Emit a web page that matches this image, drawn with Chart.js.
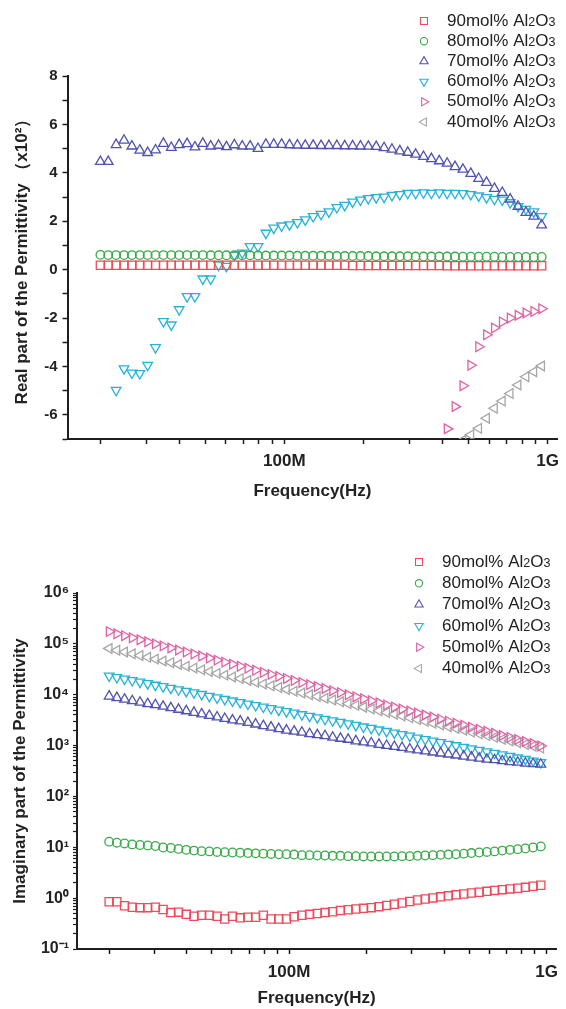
<!DOCTYPE html>
<html lang="en">
<head>
<meta charset="UTF-8">
<title>Permittivity vs Frequency</title>
<script src="https://cdn.jsdelivr.net/npm/chart.js"></script>
<style>
  html, body { margin: 0; padding: 0; background: #fff; }
  .box { position: absolute; left: 0; width: 566px; }
  #top { top: 0; height: 510px; }
  #bottom { top: 510px; height: 499px; }
</style>
</head>
<body>
<div class="box" id="top"><canvas id="realChart"></canvas></div>
<div class="box" id="bottom"><canvas id="imagChart"></canvas></div>

<script>
const freqMHz = [20.0, 21.42, 22.95, 24.59, 26.35, 28.23, 30.24, 32.40, 34.72, 37.19,
  39.85, 42.70, 45.74, 49.01, 52.51, 56.25, 60.27, 64.57, 69.18, 74.12,
  79.41, 85.08, 91.16, 97.65, 104.6, 112.1, 120.1, 128.7, 137.9, 147.7,
  158.3, 169.6, 181.7, 194.6, 208.5, 223.4, 239.3, 256.4, 274.7, 294.3,
  315.3, 337.9, 362.0, 387.8, 415.5, 445.1, 476.9, 510.9, 547.4, 586.5,
  628.3, 673.2, 721.2, 772.7, 827.9, 887.0, 950.0];

const seriesLabels = ['90mol% Al₂O₃', '80mol% Al₂O₃', '70mol% Al₂O₃',
  '60mol% Al₂O₃', '50mol% Al₂O₃', '40mol% Al₂O₃'];

// real part (x10^2)
const real90 = [0.18, 0.18, 0.18, 0.18, 0.18, 0.18, 0.18, 0.18, 0.18, 0.18,
  0.18, 0.18, 0.18, 0.18, 0.18, 0.18, 0.18, 0.18, 0.18, 0.18,
  0.18, 0.18, 0.18, 0.18, 0.18, 0.18, 0.18, 0.18, 0.18, 0.18,
  0.18, 0.18, 0.17, 0.17, 0.17, 0.17, 0.17, 0.17, 0.17, 0.17,
  0.17, 0.17, 0.17, 0.17, 0.16, 0.16, 0.16, 0.16, 0.16, 0.16,
  0.16, 0.16, 0.16, 0.16, 0.16, 0.16, 0.16];
const real80 = [0.61, 0.60, 0.60, 0.60, 0.60, 0.60, 0.60, 0.60, 0.60, 0.60,
  0.60, 0.60, 0.60, 0.60, 0.59, 0.59, 0.59, 0.59, 0.59, 0.59,
  0.58, 0.58, 0.58, 0.58, 0.58, 0.57, 0.57, 0.57, 0.57, 0.57,
  0.56, 0.56, 0.56, 0.56, 0.56, 0.55, 0.55, 0.55, 0.55, 0.55,
  0.54, 0.54, 0.54, 0.54, 0.54, 0.54, 0.53, 0.53, 0.53, 0.53,
  0.53, 0.52, 0.52, 0.52, 0.52, 0.52, 0.52];
const real70 = [4.46, 4.46, 5.16, 5.34, 5.10, 4.93, 4.83, 4.94, 5.21, 5.04,
  5.16, 5.20, 5.06, 5.21, 5.10, 5.13, 5.07, 5.15, 5.10, 5.10,
  5.00, 5.17, 5.17, 5.17, 5.15, 5.14, 5.13, 5.13, 5.12, 5.12,
  5.12, 5.11, 5.11, 5.10, 5.09, 5.08, 5.03, 4.97, 4.90, 4.84,
  4.76, 4.67, 4.58, 4.49, 4.39, 4.25, 4.14, 3.97, 3.76, 3.60,
  3.35, 3.18, 2.91, 2.61, 2.36, 2.20, 1.84];
const real60 = [null, null, -4.98, -4.09, -4.27, -4.29, -3.95, -3.22, -2.14, -2.28,
  -1.65, -1.11, -1.11, -0.38, -0.38, 0.19, 0.14, 0.60, 0.69, 0.96,
  0.96, 1.51, 1.72, 1.81, 1.86, 1.95, 2.06, 2.20, 2.29, 2.39,
  2.57, 2.66, 2.80, 2.88, 2.94, 2.98, 3.00, 3.07, 3.11, 3.16,
  3.16, 3.18, 3.16, 3.18, 3.16, 3.16, 3.15, 3.11, 3.05, 2.98,
  2.91, 2.88, 2.77, 2.61, 2.50, 2.39, 2.20];
const real50 = [null, null, null, null, null, null, null, null, null, null,
  null, null, null, null, null, null, null, null, null, null,
  null, null, null, null, null, null, null, null, null, null,
  null, null, null, null, null, null, null, null, null, null,
  null, null, null, null, -6.58, -5.66, -4.80, -3.95, -3.19, -2.69,
  -2.41, -2.16, -2.00, -1.89, -1.79, -1.73, -1.62];
const real40 = [null, null, null, null, null, null, null, null, null, null,
  null, null, null, null, null, null, null, null, null, null,
  null, null, null, null, null, null, null, null, null, null,
  null, null, null, null, null, null, null, null, null, null,
  null, null, null, null, null, null, -7.05, -6.83, -6.56, -6.14,
  -5.73, -5.43, -5.12, -4.77, -4.43, -4.22, -3.98];

// imaginary part
const imag90 = [0.85, 0.85, 0.71, 0.66, 0.65, 0.65, 0.66, 0.60, 0.52, 0.53,
  0.48, 0.44, 0.46, 0.46, 0.44, 0.39, 0.44, 0.41, 0.42, 0.42,
  0.46, 0.39, 0.39, 0.39, 0.43, 0.46, 0.48, 0.50, 0.52, 0.54,
  0.57, 0.59, 0.61, 0.63, 0.65, 0.68, 0.72, 0.76, 0.80, 0.86,
  0.92, 0.96, 1.01, 1.06, 1.11, 1.16, 1.21, 1.26, 1.31, 1.36,
  1.42, 1.47, 1.52, 1.57, 1.63, 1.71, 1.79];
const imag80 = [12.9, 12.3, 11.9, 11.4, 11.1, 10.9, 10.6, 9.9, 9.7, 9.3,
  8.9, 8.6, 8.4, 8.3, 8.1, 8.0, 7.9, 7.8, 7.7, 7.6,
  7.5, 7.4, 7.3, 7.3, 7.2, 7.0, 7.0, 6.9, 6.9, 6.8,
  6.8, 6.7, 6.7, 6.6, 6.6, 6.6, 6.6, 6.6, 6.7, 6.7,
  6.8, 6.9, 7.0, 7.1, 7.2, 7.3, 7.5, 7.7, 7.9, 8.1,
  8.3, 8.6, 8.9, 9.2, 9.5, 9.9, 10.4];
const imag70 = [9330, 8710, 8130, 7590, 7080, 6610, 6310, 5890, 5500, 5130,
  4790, 4470, 4170, 3890, 3630, 3390, 3160, 3020, 2820, 2630,
  2450, 2290, 2140, 2000, 1910, 1820, 1700, 1620, 1550, 1450,
  1380, 1320, 1230, 1170, 1120, 1050, 1000, 955, 912, 851,
  813, 776, 741, 708, 676, 646, 617, 589, 562, 537,
  525, 501, 479, 468, 447, 437, 427];
const imag60 = [23400, 21900, 20400, 19100, 17800, 16600, 15500, 14500, 13500, 12600,
  11700, 11000, 10200, 9330, 8710, 8130, 7590, 7080, 6610, 6170,
  5750, 5370, 5010, 4680, 4370, 4070, 3800, 3550, 3310, 3090,
  2880, 2690, 2510, 2340, 2190, 2040, 1910, 1780, 1660, 1550,
  1410, 1320, 1230, 1150, 1070, 1000, 933, 871, 813, 759,
  708, 661, 617, 575, 537, 501, 468];
const imag50 = [174000, 158000, 145000, 132000, 120000, 110000, 100000, 91200, 83200, 75900,
  69200, 63100, 57500, 52500, 47900, 43700, 39800, 36300, 33100, 30200,
  27500, 25100, 22900, 20900, 19100, 17400, 15800, 14500, 13200, 12000,
  11000, 10000, 9120, 8320, 7590, 6920, 6310, 5750, 5250, 4790,
  4370, 3980, 3630, 3310, 3020, 2750, 2510, 2290, 2090, 1910,
  1740, 1580, 1450, 1320, 1200, 1100, 980];
const imag40 = [81300, 75000, 69200, 63800, 58900, 54300, 50100, 46200, 42700, 39400,
  36300, 33500, 30900, 28500, 26300, 24300, 22400, 20700, 19100, 17600,
  16200, 15000, 13800, 12700, 11700, 10800, 10000, 9230, 8510, 7850,
  7240, 6680, 6170, 5690, 5250, 4840, 4470, 4120, 3800, 3510,
  3240, 2990, 2750, 2540, 2340, 2160, 2000, 1840, 1700, 1570,
  1450, 1330, 1230, 1140, 1050, 966, 891];

const colors = ['#ee4a5c', '#3aaa4a', '#5252b0', '#27b2d6', '#e062a4', '#a6a6a6'];
const markers = [
  { style: 'rect', rot: 0, r: 5.8 },
  { style: 'circle', rot: 0, r: 4.3 },
  { style: 'triangle', rot: 0, r: 5.6 },
  { style: 'triangle', rot: 180, r: 5.6 },
  { style: 'triangle', rot: 90, r: 5.6 },
  { style: 'triangle', rot: 270, r: 5.6 }
];

const FONT = '"Liberation Sans", Arial, Helvetica, sans-serif';
const AXIS = '#1e1e1e';

function toPoints(vals) {
  const pts = [];
  vals.forEach((v, i) => { if (v !== null) pts.push({ x: freqMHz[i] * 1e6, y: v }); });
  return pts;
}

function makeDatasets(seriesList) {
  return seriesList.map((vals, i) => ({
    label: seriesLabels[i],
    data: toPoints(vals),
    showLine: false,
    pointStyle: markers[i].style,
    rotation: markers[i].rot,
    pointRadius: markers[i].r,
    pointHoverRadius: markers[i].r,
    borderColor: colors[i],
    backgroundColor: 'rgba(0,0,0,0)',
    pointBorderWidth: 1.3,
    borderWidth: 1.3
  }));
}

// keep only 1..9 x 10^n ticks
function niceLogTicks(scale) {
  scale.ticks = scale.ticks.filter(t => {
    const e = Math.floor(Math.log10(t.value) + 1e-9);
    const m = t.value / Math.pow(10, e);
    return Math.abs(m - Math.round(m)) < 1e-6;
  });
}

const supMap = { '-': '⁻', '0': '⁰', '1': '¹', '2': '²', '3': '³', '4': '⁴', '5': '⁵', '6': '⁶', '7': '⁷', '8': '⁸', '9': '⁹' };

// legend drawn by hand so it can sit where the original one sits
function drawMarker(ctx, m, x, y) {
  ctx.save();
  ctx.translate(x, y);
  ctx.rotate(m.rot * Math.PI / 180);
  ctx.beginPath();
  if (m.style === 'circle') {
    ctx.arc(0, 0, m.r, 0, Math.PI * 2);
  } else if (m.style === 'rect') {
    const s = m.r * Math.SQRT1_2;
    ctx.rect(-s, -s, 2 * s, 2 * s);
  } else {
    for (let k = 0; k < 3; k++) {
      const a = k * 2 * Math.PI / 3;
      ctx.lineTo(Math.sin(a) * m.r, -Math.cos(a) * m.r);
    }
    ctx.closePath();
  }
  ctx.stroke();
  ctx.restore();
}

const boxLegend = {
  id: 'boxLegend',
  afterDraw(chart, args, opts) {
    const ctx = chart.ctx;
    ctx.save();
    chart.data.datasets.forEach((ds, i) => {
      const y = opts.y + i * opts.gap;
      ctx.strokeStyle = colors[i];
      ctx.lineWidth = 1.1;
      drawMarker(ctx, { style: markers[i].style, rot: markers[i].rot, r: markers[i].r * 0.85 }, opts.mx, y);
      let x = opts.tx;
      ctx.fillStyle = '#222';
      ctx.textBaseline = 'middle';
      for (const ch of ds.label) {
        const code = ch.charCodeAt(0);
        let txt = ch, size = 17, dy = 0;
        if (code >= 0x2080 && code <= 0x2089) {
          txt = String(code - 0x2080);
          size = 12.5;
          dy = 1.5;
        }
        ctx.font = size + 'px ' + FONT;
        ctx.fillText(txt, x, y + dy);
        x += ctx.measureText(txt).width;
      }
    });
    ctx.restore();
  }
};

function xAxis(labelPad, titlePad) {
  return {
    type: 'logarithmic',
    min: 15e6,
    max: 1.09e9,
    afterBuildTicks: niceLogTicks,
    border: { display: true, color: AXIS, width: 2 },
    grid: { drawOnChartArea: false, drawTicks: true, tickLength: 5, tickColor: AXIS, tickWidth: 1.5 },
    ticks: {
      autoSkip: false,
      maxRotation: 0,
      padding: labelPad,
      color: '#222',
      font: { family: FONT, size: 17, weight: 'bold' },
      callback: v => v === 1e8 ? '100M' : (v === 1e9 ? '1G' : '')
    },
    title: {
      display: true,
      text: 'Frequency(Hz)',
      color: '#222',
      font: { family: FONT, size: 17, weight: 'bold' },
      padding: { top: 0, bottom: titlePad }
    }
  };
}

Chart.defaults.animation = false;

new Chart(document.getElementById('realChart'), {
  type: 'scatter',
  data: { datasets: makeDatasets([real90, real80, real70, real60, real50, real40]) },
  plugins: [boxLegend],
  options: {
    responsive: true,
    maintainAspectRatio: false,
    layout: { padding: { top: 76, right: 4, left: 0, bottom: 0 } },
    plugins: {
      legend: { display: false },
      tooltip: { enabled: false },
      boxLegend: { mx: 424, tx: 447, y: 21, gap: 20.2 }
    },
    scales: {
      x: Object.assign(xAxis(7, 8), { afterFit: s => { s.height = 71; } }),
      y: {
        min: -7,
        max: 8,
        afterFit: s => { s.width = 67.5; },
        border: { display: true, color: AXIS, width: 2 },
        grid: { drawOnChartArea: false, drawTicks: true, tickLength: 5, tickColor: AXIS, tickWidth: 1.5 },
        ticks: {
          stepSize: 1,
          autoSkip: false,
          padding: 5,
          color: '#222',
          font: { family: FONT, size: 15, weight: 'bold' },
          callback: v => (v % 2 === 0 ? String(v) : '')
        },
        title: {
          display: true,
          text: 'Real part of the Permittivity （x10²）',
          color: '#222',
          font: { family: FONT, size: 17, weight: 'bold' },
          padding: { top: 12, bottom: 0 }
        }
      }
    }
  }
});

new Chart(document.getElementById('imagChart'), {
  type: 'scatter',
  data: { datasets: makeDatasets([imag90, imag80, imag70, imag60, imag50, imag40]) },
  plugins: [boxLegend],
  options: {
    responsive: true,
    maintainAspectRatio: false,
    layout: { padding: { top: 83, right: 3, left: 0, bottom: 0 } },
    plugins: {
      legend: { display: false },
      tooltip: { enabled: false },
      boxLegend: { mx: 419, tx: 442, y: 52, gap: 21.3 }
    },
    scales: {
      x: Object.assign(xAxis(8, 0), { afterFit: s => { s.height = 60; } }),
      y: {
        type: 'logarithmic',
        min: 0.1,
        max: 1e6,
        afterBuildTicks: niceLogTicks,
        afterFit: s => { s.width = 77; },
        border: { display: true, color: AXIS, width: 2 },
        grid: { drawOnChartArea: false, drawTicks: true, tickLength: 4, tickColor: AXIS, tickWidth: 1.2 },
        ticks: {
          autoSkip: false,
          padding: 4,
          color: '#222',
          font: { family: FONT, size: 16, weight: 'bold' },
          callback: v => {
            const e = Math.round(Math.log10(v));
            if (Math.abs(v / Math.pow(10, e) - 1) > 1e-6) return '';
            return '10' + String(e).split('').map(c => supMap[c]).join('');
          }
        },
        title: {
          display: true,
          text: 'Imaginary part of the Permittivity',
          color: '#222',
          font: { family: FONT, size: 17, weight: 'bold' },
          padding: { top: 10, bottom: 0 }
        }
      }
    }
  }
});
</script>
</body>
</html>
